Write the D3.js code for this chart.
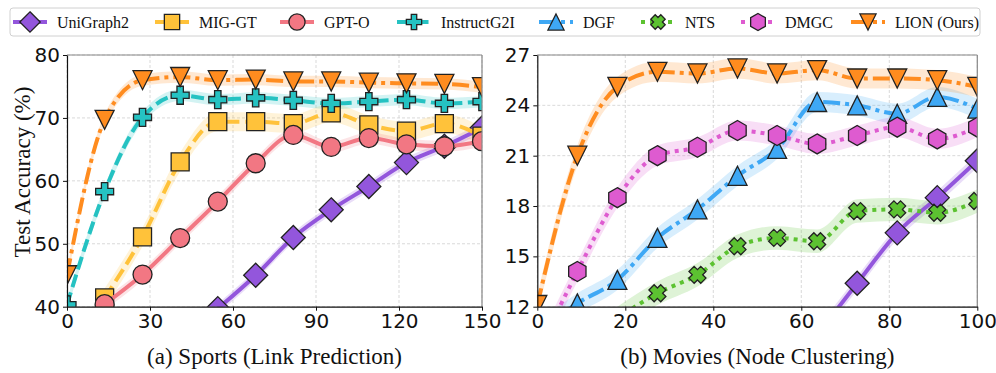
<!DOCTYPE html>
<html>
<head>
<meta charset="utf-8">
<script src="https://cdn.jsdelivr.net/npm/d3@7"></script>
<style>
  body { margin: 0; background: #fff; }
  svg { display: block; }
  .serif { font-family: "Liberation Serif", "Times New Roman", Times, serif; }
  .sans { font-family: "DejaVu Sans", sans-serif; }
</style>
</head>
<body>
<div id="chart"></div>
<script>
// x positions of the checkpoints
var sportsX = [0, 13.6, 27.3, 40.9, 54.5, 68.2, 81.8, 95.5, 109.1, 122.7, 136.4, 150];
var moviesX = [0, 9.1, 18.2, 27.3, 36.4, 45.5, 54.5, 63.6, 72.7, 81.8, 90.9, 100];

// (a) Sports, test accuracy
var sportsUniGraph2   = [null, null, null, null, 39.7, 45.0, 51.0, 55.4, 59.1, 62.9, 65.5, 68.4];
var sportsMIGGT       = [null, 41.4, 51.1, 63.0, 69.4, 69.4, 69.1, 70.8, 68.9, 67.9, 69.1, 67.1];
var sportsGPTO        = [null, 40.4, 45.1, 50.9, 56.7, 62.8, 67.3, 65.4, 66.8, 65.8, 65.5, 66.3];
var sportsInstructG2I = [40.3, 58.3, 70.1, 73.6, 72.9, 73.2, 72.8, 72.3, 72.6, 72.9, 72.3, 72.6];
var sportsLION        = [45.0, 69.7, 76.0, 76.5, 76.0, 76.1, 75.8, 75.8, 75.6, 75.5, 75.4, 74.9];

// (b) Movies, node clustering
var moviesUniGraph2 = [null, null, null, null, null, null, null, 10.3, 13.4, 16.4, 18.5, 20.7];
var moviesDGF       = [10.5, 12.2, 13.6, 16.1, 17.8, 19.8, 21.4, 24.2, 24.0, 23.5, 24.5, 23.8];
var moviesNTS       = [null, null, 11.3, 12.8, 13.9, 15.6, 16.1, 15.9, 17.7, 17.8, 17.6, 18.3];
var moviesDMGC      = [9.2, 14.1, 18.5, 21.0, 21.5, 22.5, 22.2, 21.7, 22.2, 22.7, 22.0, 22.7];
var moviesLION      = [12.1, 21.0, 25.1, 26.0, 25.9, 26.2, 25.9, 26.1, 25.6, 25.6, 25.5, 25.1];

// half width of the shaded band
var sportsBand = { UniGraph2: 0.8, MIGGT: 1.5, GPTO: 0.9, InstructG2I: 0.9, LION: 0.9 };
var moviesBand = { UniGraph2: 0.4, DGF: 0.6, NTS: 0.7, DMGC: 0.6, LION: 0.6 };

var sportsTicksX = [0, 30, 60, 90, 120, 150];
var sportsTicksY = [40, 50, 60, 70, 80];
var moviesTicksX = [0, 20, 40, 60, 80, 100];
var moviesTicksY = [12, 15, 18, 21, 24, 27];

var methods = [
  { key: "UniGraph2",   label: "UniGraph2",   color: "#9356dc", dash: null,       shape: "diamond" },
  { key: "MIGGT",       label: "MIG-GT",      color: "#ffc23a", dash: "14,6",     shape: "square" },
  { key: "GPTO",        label: "GPT-O",       color: "#f27783", dash: null,       shape: "circle" },
  { key: "InstructG2I", label: "InstructG2I", color: "#25c2c2", dash: "13,5.5",   shape: "plus" },
  { key: "DGF",         label: "DGF",         color: "#3ea8f5", dash: "17,5,4,5", shape: "triup" },
  { key: "NTS",         label: "NTS",         color: "#5cc231", dash: "4,5",      shape: "xfill" },
  { key: "DMGC",        label: "DMGC",        color: "#de5bd0", dash: "4,5",      shape: "hex" },
  { key: "LION",        label: "LION (Ours)", color: "#ff8c1f", dash: "17,5,4,5", shape: "tridown" }
];
var byKey = {};
methods.forEach(function(m) { byKey[m.key] = m; });

var width = 996, height = 373;
var svg = d3.select("#chart").append("svg")
  .attr("width", width)
  .attr("height", height);

// marker outlines
function markerPath(shape, k) {
  k = k || 1;
  var p;
  if (shape == "diamond") {
    var r = 12 * k;
    p = [[0, -r], [r, 0], [0, r], [-r, 0]];
  } else if (shape == "square") {
    var h = 9 * k;
    p = [[-h, -h], [h, -h], [h, h], [-h, h]];
  } else if (shape == "circle") {
    var c = 9.5 * k;
    return "M" + (-c) + ",0A" + c + "," + c + " 0 1,0 " + c + ",0A" + c + "," + c + " 0 1,0 " + (-c) + ",0Z";
  } else if (shape == "plus") {
    var a = 9 * k, t = 3.2 * k;
    p = [[-t, -a], [t, -a], [t, -t], [a, -t], [a, t], [t, t], [t, a], [-t, a], [-t, t], [-a, t], [-a, -t], [-t, -t]];
  } else if (shape == "triup") {
    var s = 9.5 * k;
    p = [[0, -s], [s, s], [-s, s]];
  } else if (shape == "tridown") {
    var s2 = 9.5 * k;
    p = [[-s2, -s2], [s2, -s2], [0, s2]];
  } else if (shape == "xfill") {
    var e = 8.5 * k, w = 2.6 * k, q = w * 2;
    p = [[-e, -e + q], [-e + q, -e], [0, -q], [e - q, -e], [e, -e + q], [q, 0], [e, e - q], [e - q, e], [0, q], [-e + q, e], [-e, e - q], [-q, 0]];
  } else if (shape == "hex") {
    var rr = 10 * k;
    p = d3.range(6).map(function(i) {
      var ang = -Math.PI / 2 + i * Math.PI / 3;
      return [rr * Math.cos(ang), rr * Math.sin(ang)];
    });
  }
  return "M" + p.map(function(d) { return d[0].toFixed(2) + "," + d[1].toFixed(2); }).join("L") + "Z";
}

function drawPanel(opt) {
  var g = svg.append("g");
  var xScale = d3.scaleLinear().domain(opt.xDomain).range([opt.left, opt.right]);
  var yScale = d3.scaleLinear().domain(opt.yDomain).range([opt.bottom, opt.top]);

  var clipId = "clip-" + opt.id;
  svg.append("clipPath").attr("id", clipId)
    .append("rect")
    .attr("x", opt.left).attr("y", opt.top)
    .attr("width", opt.right - opt.left).attr("height", opt.bottom - opt.top);

  // grid
  g.selectAll(".gx").data(opt.ticksX).enter().append("line")
    .attr("x1", function(d) { return xScale(d); }).attr("x2", function(d) { return xScale(d); })
    .attr("y1", opt.top).attr("y2", opt.bottom)
    .attr("stroke", "#cfcfcf").attr("stroke-width", 0.8).attr("stroke-dasharray", "3,2");
  g.selectAll(".gy").data(opt.ticksY).enter().append("line")
    .attr("x1", opt.left).attr("x2", opt.right)
    .attr("y1", function(d) { return yScale(d); }).attr("y2", function(d) { return yScale(d); })
    .attr("stroke", "#cfcfcf").attr("stroke-width", 0.8).attr("stroke-dasharray", "3,2");

  var plot = g.append("g").attr("clip-path", "url(#" + clipId + ")");

  var rows = opt.series.map(function(s) {
    var pts = [];
    s.values.forEach(function(v, i) {
      if (v != null) pts.push({ x: opt.xs[i], y: v });
    });
    return { m: byKey[s.key], pts: pts, band: s.band };
  });

  var area = d3.area()
    .curve(d3.curveMonotoneX)
    .x(function(d) { return xScale(d.x); });
  var line = d3.line()
    .curve(d3.curveMonotoneX)
    .x(function(d) { return xScale(d.x); })
    .y(function(d) { return yScale(d.y); });

  // bands below all lines
  rows.forEach(function(r) {
    area.y0(function(d) { return yScale(d.y - r.band); })
        .y1(function(d) { return yScale(d.y + r.band); });
    plot.append("path")
      .attr("d", area(r.pts))
      .attr("fill", r.m.color)
      .attr("fill-opacity", 0.2);
  });

  rows.forEach(function(r) {
    plot.append("path")
      .attr("d", line(r.pts))
      .attr("fill", "none")
      .attr("stroke", r.m.color)
      .attr("stroke-width", 4)
      .attr("stroke-dasharray", r.m.dash)
      .attr("stroke-linejoin", "round");
    plot.selectAll(null).data(r.pts).enter().append("path")
      .attr("transform", function(d) { return "translate(" + xScale(d.x) + "," + yScale(d.y) + ")"; })
      .attr("d", markerPath(r.m.shape))
      .attr("fill", r.m.color)
      .attr("stroke", "#222")
      .attr("stroke-width", 1.3);
  });

  // frame
  g.append("line").attr("x1", opt.left).attr("x2", opt.right).attr("y1", opt.top).attr("y2", opt.top)
    .attr("stroke", "#888").attr("stroke-width", 1.2);
  g.append("line").attr("x1", opt.right).attr("x2", opt.right).attr("y1", opt.top).attr("y2", opt.bottom)
    .attr("stroke", "#888").attr("stroke-width", 1.2);

  var xAxis = g.append("g")
    .attr("transform", "translate(0," + opt.bottom + ")")
    .call(d3.axisBottom(xScale).tickValues(opt.ticksX).tickSize(4).tickPadding(3).tickSizeOuter(0));
  var yAxis = g.append("g")
    .attr("transform", "translate(" + opt.left + ",0)")
    .call(d3.axisLeft(yScale).tickValues(opt.ticksY).tickSize(4).tickPadding(3).tickSizeOuter(0));
  [xAxis, yAxis].forEach(function(ax) {
    ax.attr("font-family", null).attr("font-size", null);
    ax.select(".domain").attr("stroke", "#111").attr("stroke-width", 1.2);
    ax.selectAll(".tick line").attr("stroke", "#111");
    ax.selectAll(".tick text")
      .attr("class", "sans")
      .attr("font-size", 20)
      .attr("fill", "#111");
  });

  g.append("text")
    .attr("class", "serif")
    .attr("x", (opt.left + opt.right) / 2)
    .attr("y", 364)
    .attr("text-anchor", "middle")
    .attr("font-size", 23)
    .attr("fill", "#111")
    .text(opt.title);
}

drawPanel({
  id: "sports",
  left: 67, right: 482, top: 55, bottom: 306.7,
  xDomain: [0, 150], yDomain: [40, 80],
  ticksX: sportsTicksX, ticksY: sportsTicksY,
  xs: sportsX,
  title: "(a) Sports (Link Prediction)",
  series: [
    { key: "UniGraph2",   values: sportsUniGraph2,   band: sportsBand.UniGraph2 },
    { key: "MIGGT",       values: sportsMIGGT,       band: sportsBand.MIGGT },
    { key: "GPTO",        values: sportsGPTO,        band: sportsBand.GPTO },
    { key: "InstructG2I", values: sportsInstructG2I, band: sportsBand.InstructG2I },
    { key: "LION",        values: sportsLION,        band: sportsBand.LION }
  ]
});

drawPanel({
  id: "movies",
  left: 537.3, right: 977.3, top: 55, bottom: 306.7,
  xDomain: [0, 100], yDomain: [12, 27],
  ticksX: moviesTicksX, ticksY: moviesTicksY,
  xs: moviesX,
  title: "(b) Movies (Node Clustering)",
  series: [
    { key: "UniGraph2", values: moviesUniGraph2, band: moviesBand.UniGraph2 },
    { key: "DGF",       values: moviesDGF,       band: moviesBand.DGF },
    { key: "NTS",       values: moviesNTS,       band: moviesBand.NTS },
    { key: "DMGC",      values: moviesDMGC,      band: moviesBand.DMGC },
    { key: "LION",      values: moviesLION,      band: moviesBand.LION }
  ]
});

// y label
svg.append("text")
  .attr("class", "serif")
  .attr("transform", "translate(22,172) rotate(-90)")
  .attr("text-anchor", "middle")
  .attr("dy", "0.35em")
  .attr("font-size", 23)
  .attr("fill", "#111")
  .text("Test Accuracy (%)");

// legend
var legend = svg.append("g");
legend.append("rect")
  .attr("x", 10).attr("y", 8).attr("width", 970).attr("height", 28)
  .attr("rx", 3)
  .attr("fill", "#fff").attr("stroke", "#d0d0d0").attr("stroke-width", 1);
var legendX = [13, 155, 280, 397, 539, 641, 741, 851];
methods.forEach(function(m, i) {
  var lg = legend.append("g").attr("transform", "translate(" + legendX[i] + ",22)");
  lg.append("line")
    .attr("x1", 0).attr("x2", 34).attr("y1", 0).attr("y2", 0)
    .attr("stroke", m.color).attr("stroke-width", 4)
    .attr("stroke-dasharray", m.dash);
  lg.append("path")
    .attr("transform", "translate(17,0)")
    .attr("d", markerPath(m.shape, 0.85))
    .attr("fill", m.color).attr("stroke", "#222").attr("stroke-width", 1.3);
  lg.append("text")
    .attr("class", "serif")
    .attr("x", 44).attr("y", 0).attr("dy", "0.35em")
    .attr("font-size", 16)
    .attr("fill", "#111")
    .text(m.label);
});
</script>
</body>
</html>
